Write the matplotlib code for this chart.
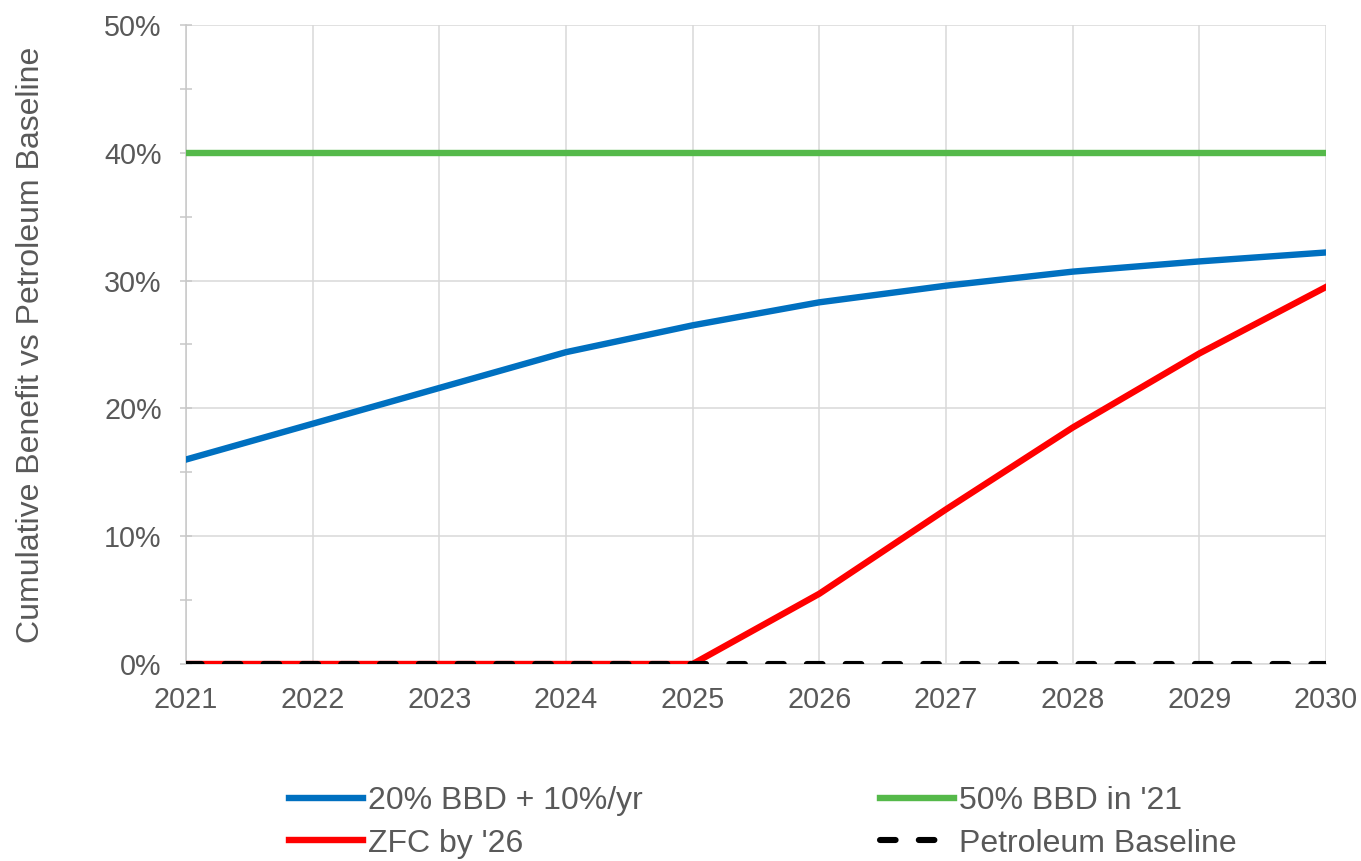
import matplotlib
matplotlib.use("Agg")
import matplotlib.pyplot as plt
from matplotlib.ticker import MultipleLocator, PercentFormatter

plt.rcParams['font.family'] = ['Liberation Sans', 'DejaVu Sans']

years = [2021, 2022, 2023, 2024, 2025, 2026, 2027, 2028, 2029, 2030]
bbd_ramp = [16.0, 18.8, 21.6, 24.4, 26.5, 28.3, 29.6, 30.7, 31.5, 32.2]
bbd_50 = [40.0, 40.0, 40.0, 40.0, 40.0, 40.0, 40.0, 40.0, 40.0, 40.0]
zfc_26 = [0.0, 0.0, 0.0, 0.0, 0.0, 5.5, 12.1, 18.5, 24.3, 29.5]
baseline = [0.0, 0.0, 0.0, 0.0, 0.0, 0.0, 0.0, 0.0, 0.0, 0.0]

txt = '#595959'
grid = '#d9d9d9'
lw = 4.6

fig = plt.figure(figsize=(13.61, 8.61), dpi=100)
ax = fig.add_axes([0.1367, 0.2288, 0.8376, 0.7422])

l1, = ax.plot(years, bbd_ramp, color='#0070c0', lw=lw, label='20% BBD + 10%/yr', zorder=3)
l2, = ax.plot(years, zfc_26, color='#ff0000', lw=lw, label="ZFC by '26", zorder=3)
l3, = ax.plot(years, bbd_50, color='#55b94a', lw=lw, label="50% BBD in '21", zorder=3)
l4, = ax.plot(years, baseline, color='black', lw=4.4, label='Petroleum Baseline',
              dashes=(2.55, 3.8), dash_capstyle='round', zorder=4)

ax.set_xlim(2021, 2030)
ax.set_ylim(0, 50)
ax.set_xticks(years)
ax.yaxis.set_major_locator(MultipleLocator(10))
ax.yaxis.set_minor_locator(MultipleLocator(5))
ax.yaxis.set_major_formatter(PercentFormatter(decimals=0))

ax.grid(True, which='major', color=grid, lw=1.1, zorder=0)
for s in ['top', 'right']:
    ax.spines[s].set_visible(False)
ax.spines['left'].set_color('#c8c8c8')
ax.spines['left'].set_linewidth(1.1)
ax.spines['bottom'].set_color(grid)
ax.spines['bottom'].set_linewidth(1.1)

ax.tick_params(axis='y', which='both', direction='inout', length=9, width=1.1,
               color='#c8c8c8', labelsize=20.7, labelcolor=txt, pad=13)
ax.tick_params(axis='x', length=0, labelsize=20.7, labelcolor=txt, pad=16)

ax.set_ylabel('Cumulative Benefit vs Petroleum Baseline', fontsize=23, color=txt)
ax.yaxis.set_label_coords(-0.123, 0.5)

fig.legend(handles=[l1, l2, l3, l4], loc='center', bbox_to_anchor=(0.5605, 0.045),
           ncol=2, frameon=False, fontsize=23, labelcolor=txt,
           handlelength=2.3, handletextpad=0.15, columnspacing=7.45,
           labelspacing=0.4)

fig.savefig('out.png', dpi=100)
